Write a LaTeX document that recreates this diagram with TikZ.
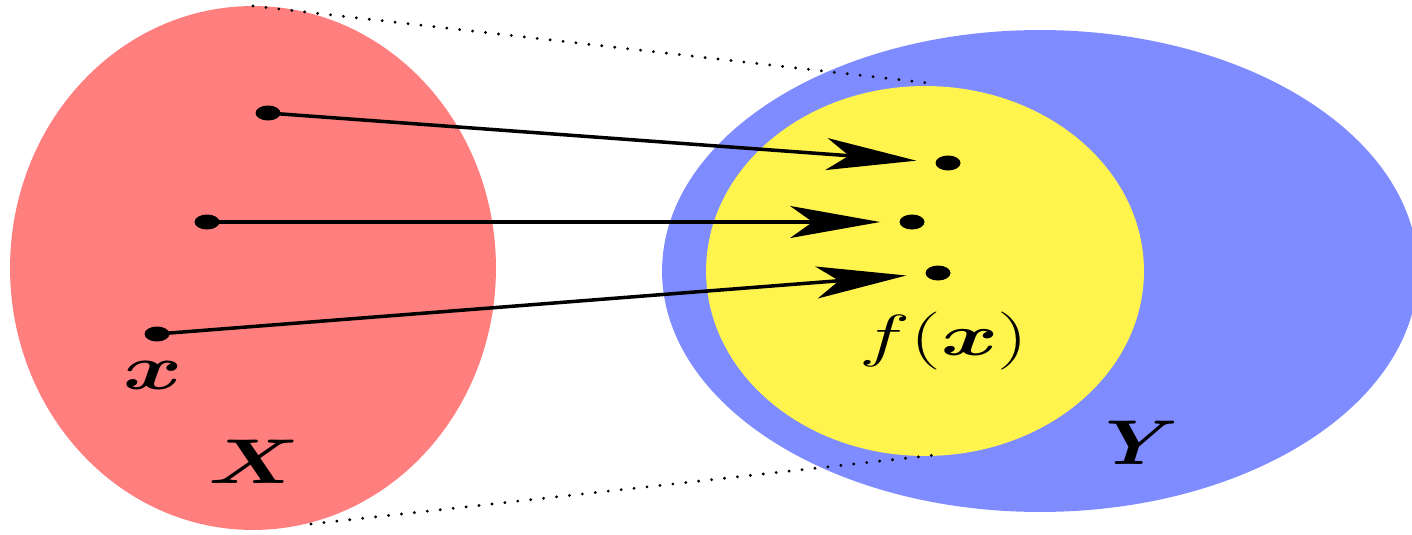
\RequirePackage{fix-cm}
\documentclass[tikz,border=0pt]{standalone}
\usepackage{amsmath,bm}
\usetikzlibrary{shapes.geometric, arrows.meta}

\definecolor{setred}{RGB}{255,127,127}
\definecolor{setblue}{RGB}{127,140,255}
\definecolor{setyellow}{RGB}{255,244,77}

\tikzset{
    pt/.style={ellipse,fill=black,inner sep=0pt,minimum width=0.5cm,minimum height=0.3cm},
    maparrow/.style={line width=2pt,-{Stealth[length=1.8cm,width=0.64cm,inset=0.45cm]},shorten >=0.38cm},
    hull/.style={line width=1.8pt,line cap=round,dash pattern=on 0pt off 7.4pt},
    lbl/.style={font=\fontsize{36}{40}\selectfont,xscale=1.42}
}

\begin{document}
\begin{tikzpicture}[x=0.02cm,y=-0.02cm]
    \useasboundingbox (0,0) rectangle (1412,534);
    % the two sets and the image
    \fill[setred] (253,268) ellipse [x radius=4.86cm, y radius=5.24cm];
    \fill[setblue] (1040,271) ellipse [x radius=7.56cm, y radius=4.82cm];
    \fill[setyellow] (925,271) ellipse [x radius=4.38cm, y radius=3.7cm];

    \coordinate (tx) at (253,6);
    \coordinate (bx) at (311,524);
    \coordinate (ty) at (937,84);
    \coordinate (by) at (935,455);
    \draw[hull] (tx) -- (ty);
    \draw[hull] (bx) -- (by);

    \node[pt] (s-1) at (268,113) {};
    \node[pt] (s-2) at (207,222) {};
    \node[pt] (s-3) at (157,334) {};
    \node[pt] (t-1) at (948,163) {};
    \node[pt] (t-2) at (912,222) {};
    \node[pt] (t-3) at (938,273) {};

    \foreach \i in {1,2,3}
        \draw[maparrow] (s-\i.center) -- (t-\i);

    \node[lbl] (lx) at (153,375) {$\bm{x}$};
    \node[lbl] (lX) at (255,462) {$\bm{X}$};
    \node[lbl,xscale=0.88] (lY) at (1142,443) {$\bm{Y}$};
    \node[lbl,font=\fontsize{33}{38}\selectfont,xscale=1.05] (lf) at (944,341) {$f(\bm{x})$};
\end{tikzpicture}
\end{document}
